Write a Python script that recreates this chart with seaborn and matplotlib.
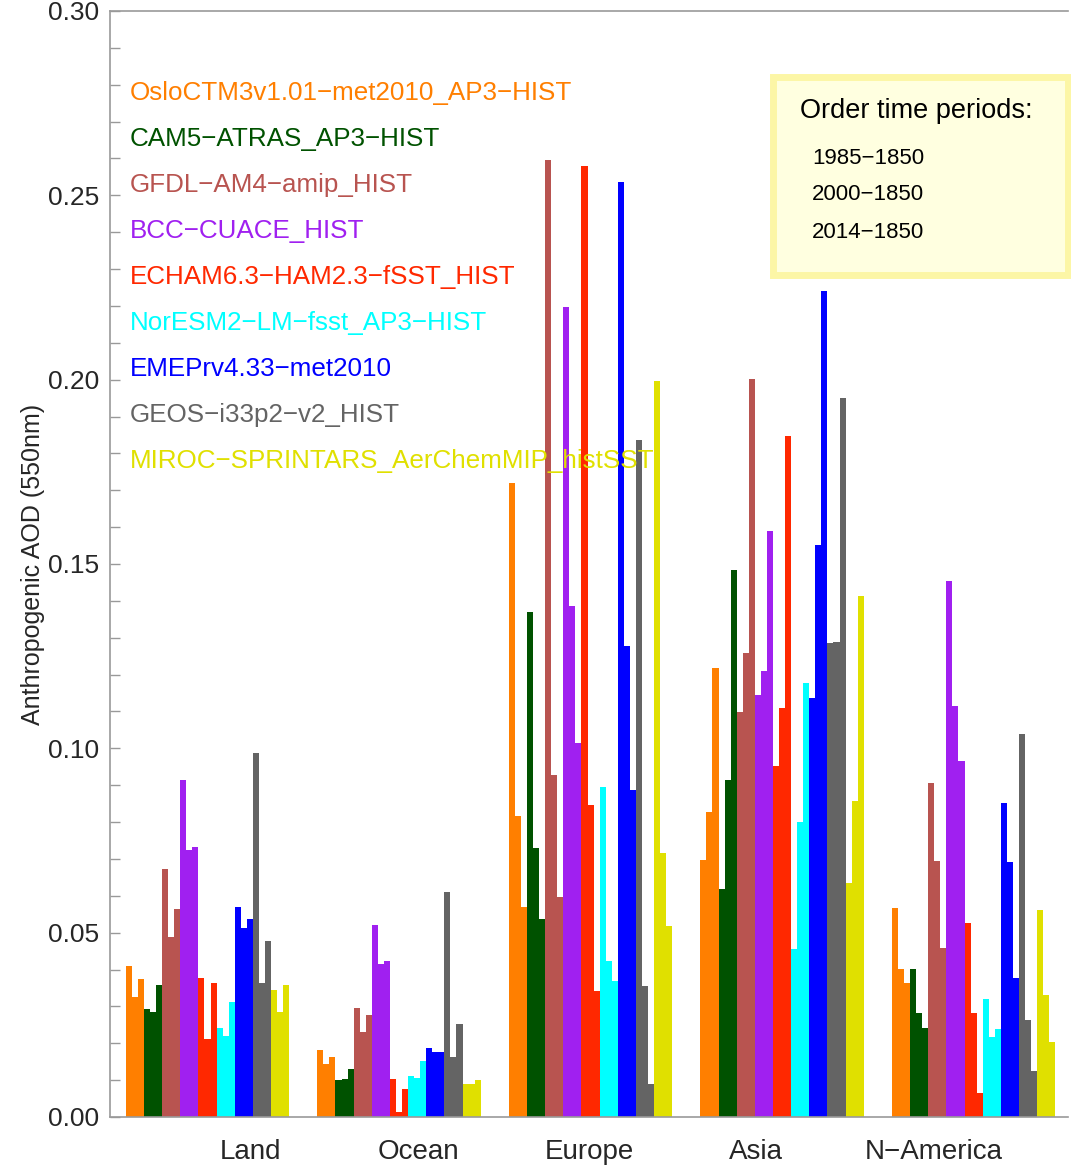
import numpy as np
import pandas as pd
import matplotlib
matplotlib.use("Agg")
import matplotlib.pyplot as plt
import matplotlib.patches as mpatches
from matplotlib.ticker import MultipleLocator, FormatStrFormatter
import seaborn as sns

# ---------------- data ----------------
regions = ["Land", "Ocean", "Europe", "Asia", "N\u2212America"]
models = [
    "OsloCTM3v1.01\u2212met2010_AP3\u2212HIST",
    "CAM5\u2212ATRAS_AP3\u2212HIST",
    "GFDL\u2212AM4\u2212amip_HIST",
    "BCC\u2212CUACE_HIST",
    "ECHAM6.3\u2212HAM2.3\u2212fSST_HIST",
    "NorESM2\u2212LM\u2212fsst_AP3\u2212HIST",
    "EMEPrv4.33\u2212met2010",
    "GEOS\u2212i33p2\u2212v2_HIST",
    "MIROC\u2212SPRINTARS_AerChemMIP_histSST",
]
model_colors = ["#FF7F00", "#005200", "#B85450", "#A020F0", "#FF2800",
                "#00FFFF", "#0000FF", "#646464", "#E0E000"]
periods = ["1985\u22121850", "2000\u22121850", "2014\u22121850"]

# values per region: for each model, (1985, 2000, 2014) minus 1850
land = [0.0410, 0.0325, 0.0375,  0.0292, 0.0284, 0.0358,  0.0673, 0.0489, 0.0563,
        0.0914, 0.0723, 0.0733,  0.0378, 0.0212, 0.0364,  0.0241, 0.0220, 0.0313,
        0.0569, 0.0513, 0.0536,  0.0987, 0.0363, 0.0478,  0.0344, 0.0284, 0.0358]
ocean = [0.0182, 0.0143, 0.0162,  0.0100, 0.0102, 0.0130,  0.0297, 0.0231, 0.0278,
         0.0520, 0.0414, 0.0424,  0.0102, 0.0013, 0.0075,  0.0111, 0.0107, 0.0152,
         0.0187, 0.0175, 0.0175,  0.0609, 0.0163, 0.0252,  0.0090, 0.0089, 0.0100]
europe = [0.1719, 0.0817, 0.0569,  0.1369, 0.0730, 0.0537,  0.2597, 0.0929, 0.0598,
          0.2196, 0.1385, 0.1014,  0.2579, 0.0845, 0.0342,  0.0896, 0.0423, 0.0369,
          0.2535, 0.1277, 0.0887,  0.1836, 0.0356, 0.0090,  0.1996, 0.0715, 0.0518]
asia = [0.0697, 0.0828, 0.1219,  0.0618, 0.0914, 0.1483,  0.1099, 0.1258, 0.2002,
        0.1144, 0.1209, 0.1589,  0.0953, 0.1110, 0.1847,  0.0455, 0.0799, 0.1177,
        0.1136, 0.1552, 0.2240,  0.1285, 0.1288, 0.1950,  0.0636, 0.0858, 0.1413]
namerica = [0.0568, 0.0401, 0.0363,  0.0401, 0.0281, 0.0241,  0.0907, 0.0695, 0.0459,
            0.1453, 0.1116, 0.0965,  0.0527, 0.0281, 0.0065,  0.0319, 0.0217, 0.0239,
            0.0853, 0.0691, 0.0378,  0.1038, 0.0264, 0.0125,  0.0561, 0.0330, 0.0203]
region_values = [land, ocean, europe, asia, namerica]

# ---------------- table ----------------
rows = []
combos = []
for m in models:
    for p in periods:
        combos.append(f"{m} {p}")
for r, vals in zip(regions, region_values):
    for c, v in zip(combos, vals):
        rows.append({"region": r, "combo": c, "value": v})
df = pd.DataFrame(rows)
palette = [c for c in model_colors for _ in periods]

# ---------------- figure ----------------
W, H = 1071, 1166
sns.set_style("white")
plt.rcParams["font.family"] = ["Liberation Sans", "DejaVu Sans"]
fig = plt.figure(figsize=(W / 100, H / 100), dpi=100)
ax = fig.add_axes([110 / W, (H - 1117) / H, (1068 - 110) / W, (1117 - 11) / H])

sns.barplot(data=df, x="region", y="value", hue="combo", hue_order=combos,
            order=regions, palette=palette, width=0.853, gap=0,
            errorbar=None, legend=False, linewidth=0, saturation=1, ax=ax)

ax.set_xlim(-0.509, 4.493)
ax.set_ylim(0, 0.30)
ax.yaxis.set_major_locator(MultipleLocator(0.05))
ax.yaxis.set_minor_locator(MultipleLocator(0.01))
ax.yaxis.set_major_formatter(FormatStrFormatter("%.2f"))
ax.tick_params(axis="y", which="both", direction="in", length=7.5, width=1,
               color="#999999", left=True, right=False, labelsize=19, pad=8)
ax.tick_params(axis="x", which="both", length=0, labelsize=20, pad=16)

label_pos = [0.227, 1.102, 1.996, 2.864, 3.793]
ax.set_xticks(label_pos)
ax.set_xticklabels(regions)
ax.set_xlabel("")
ax.set_ylabel("Anthropogenic AOD (550nm)", fontsize=18, labelpad=2)

for side in ["left", "bottom", "top"]:
    ax.spines[side].set_visible(True)
    ax.spines[side].set_color("#9a9a9a")
    ax.spines[side].set_linewidth(1.2)
ax.spines["right"].set_visible(False)

# model name labels
name_y = [93, 139, 185, 231, 277, 323, 369, 415, 461]
for name, col, yc in zip(models, model_colors, name_y):
    fig.text(130 / W, 1 - yc / H, name, color=col, fontsize=18.7,
             va="center", ha="left")

# order-time-periods box
box = mpatches.Rectangle((773 / W, 1 - 275 / H), (1068 - 773) / W, (275 - 77) / H,
                         transform=fig.transFigure, facecolor="#FFFFE0",
                         edgecolor="#FCF6A6", linewidth=5, zorder=5)
fig.patches.append(box)
fig.text(800 / W, 1 - 111 / H, "Order time periods:", fontsize=19.5,
         va="center", ha="left", color="black", zorder=6)
for p, yc in zip(periods, [158, 195, 232]):
    fig.text(812 / W, 1 - yc / H, p, fontsize=16, va="center", ha="left",
             color="black", zorder=6)

fig.savefig("out.png", dpi=100, facecolor="white")
